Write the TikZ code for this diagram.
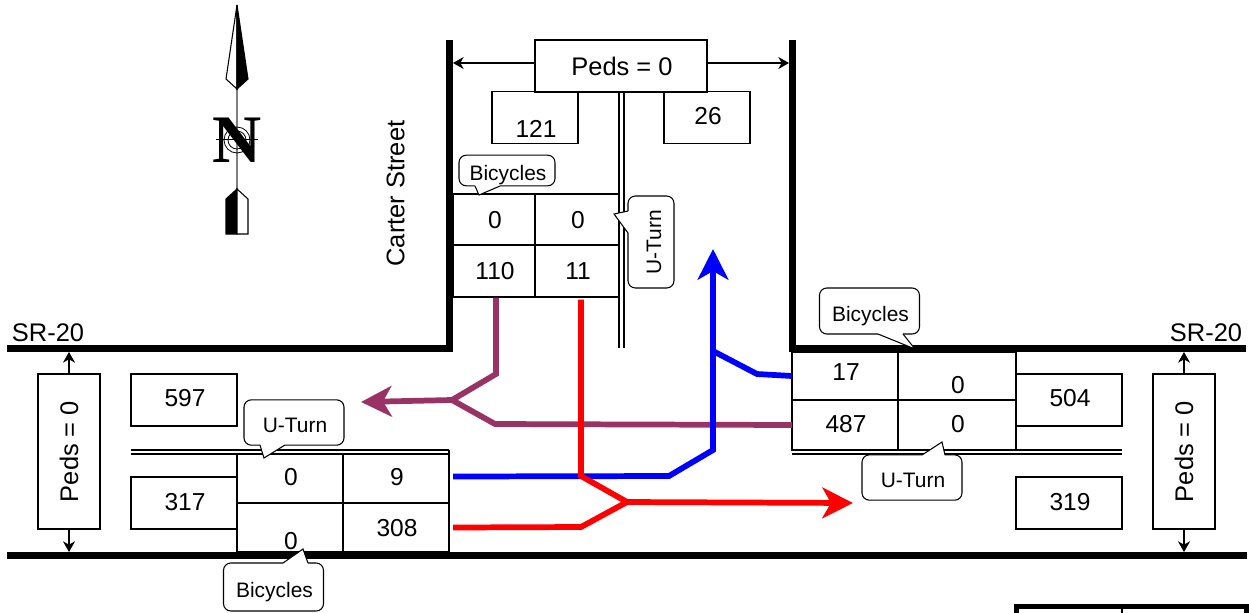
\documentclass[tikz,border=0pt]{standalone}
\usepackage{fontspec}
\setmainfont{Liberation Sans}
\newfontfamily\serifletter{Liberation Serif}
\usetikzlibrary{arrows.meta}
\definecolor{Plum}{HTML}{993366}
\definecolor{Signal}{HTML}{FF0000}
\definecolor{Lane}{HTML}{0000FF}
\tikzset{
  road/.style={line width=4.9pt},
  thinline/.style={line width=0.8pt},
  nudge/.style={execute at begin node=\kern1.5pt},
  numtext/.style={font=\fontsize{18.4}{22}\selectfont,text height=12.9pt,text depth=0pt,nudge},
  cell/.style={draw,line width=1.1pt,inner sep=0pt,outer sep=0pt,numtext,minimum width=#1,minimum height=37pt},
  volbox/.style={cell=79.5pt,minimum height=39pt,text depth=2.5pt},
  pedsbox/.style={draw,line width=1.1pt,inner sep=0pt,outer sep=0pt,font=\fontsize{19.1}{22}\selectfont,minimum width=#1},
  label/.style={font=\fontsize{19.1}{22}\selectfont,inner sep=0pt},
  bubble/.style={draw,line width=0.8pt,fill=white,rounded corners=5.5pt,inner sep=0pt,font=\fontsize{15.7}{18}\selectfont,text height=15pt,text depth=0pt},
  pedarrow/.style={-{Stealth[length=8pt,width=9pt,inset=2.5pt]},line width=0.8pt},
  flow/.style={line width=4.3pt},
  flowhead/.style={flow,-{Stealth[length=23pt,width=23pt,inset=6.5pt]}}
}

\begin{document}
\begin{tikzpicture}[x=0.75pt,y=-0.75pt]
    \useasboundingbox (0,0) rectangle (1249,612);

    \draw[gray,line width=1.1pt] (237,89) -- (237,189);
    \draw[thinline,fill=white] (237,5) -- (226,79) -- (237,89) -- cycle;
    \draw[thinline,fill=black] (237,5) -- (248,79) -- (237,89) -- cycle;
    \draw[thinline,fill=black] (237,189) -- (226,199) -- (226,234) -- (237,234) -- cycle;
    \draw[thinline,fill=white] (237,189) -- (248,199) -- (248,234) -- (237,234) -- cycle;
    \foreach \r in {9,13}{\draw[line width=0.6pt] (237,140) circle (\r);}
    \draw[line width=0.6pt] (216,139) -- (258,139);
    \node[inner sep=0pt,font=\fontsize{51}{55}\serifletter\bfseries] (north) at (237,140) {N};

    \node[cell=61.5pt,minimum height=38.25pt] (cellNa) at (494,219.5) {0};
    \node[cell=63pt,minimum height=38.25pt] (cellNb) at (577,219.5) {0};
    \node[cell=61.5pt,minimum height=39pt] (cellNc) at (494,271) {110};
    \node[cell=63pt,minimum height=39pt] (cellNd) at (577,271) {11};

    \node[cell=79.5pt,minimum height=36.75pt,text depth=2pt] (cellWa) at (290,478.5) {0};
    \node[cell=79.5pt,minimum height=36.75pt,text depth=2pt] (cellWb) at (396,478.5) {9};
    \node[cell=79.5pt,text height=33pt] (cellWc) at (290,527.5) {0};
    \node[cell=79.5pt] (cellWd) at (396,527.5) {308};

    \node[cell=79.5pt,minimum height=36pt,text depth=6pt] (cellEa) at (845,376) {17};
    \node[cell=88.5pt,minimum height=36pt,text height=26.4pt] (cellEb) at (957,376) {0};
    \node[cell=79.5pt,minimum height=37.5pt,text depth=1.5pt] (cellEc) at (845,425) {487};
    \node[cell=88.5pt,minimum height=37.5pt,text depth=1.5pt] (cellEd) at (957,425) {0};

    \node[volbox,minimum width=64.5pt,text height=30pt,text depth=0pt] (volNin) at (535,117.5) {121};
    \node[volbox,minimum width=64.5pt] (volNout) at (707,117.5) {26};
    \node[volbox] (volWout) at (184,400) {597};
    \node[volbox,text depth=1.2pt] (volWin) at (184,503) {317};
    \node[volbox] (volEin) at (1069,400) {504};
    \node[volbox,text depth=1.2pt] (volEout) at (1069,503) {319};

    \node[pedsbox=129pt,minimum height=39pt,nudge] (pedsN) at (621,66) {Peds = 0};
    \node[pedsbox=116.25pt,minimum height=46.5pt,rotate=90] (pedsW) at (69,451.5) {Peds = 0};
    \node[pedsbox=116.25pt,minimum height=46.5pt,rotate=90] (pedsE) at (1184,451.5) {Peds = 0};

    \coordinate (edgeNW) at (453,63);
    \coordinate (edgeNE) at (789,63);
    \coordinate (edgeWtop) at (69,352);
    \coordinate (edgeWbot) at (69,552);
    \coordinate (edgeEtop) at (1184,352);
    \coordinate (edgeEbot) at (1184,552);
    \draw[pedarrow] (pedsN.west |- edgeNW) -- (edgeNW);
    \draw[pedarrow] (pedsN.east |- edgeNE) -- (edgeNE);
    \draw[pedarrow] (pedsW.east) -- (edgeWtop);
    \draw[pedarrow] (pedsW.west) -- (edgeWbot);
    \draw[pedarrow] (pedsE.east) -- (edgeEtop);
    \draw[pedarrow] (pedsE.west) -- (edgeEbot);

    \draw[road] (7,348.5) -- (449.5,348.5) -- (449.5,40);
    \draw[road] (792.5,40) -- (792.5,348.5) -- (1246,348.5);
    \draw[road] (7,555.5) -- (1247,555.5);

    \foreach \x in {619,624}{\draw[thinline] (\x,92) -- (\x,348);}
    \foreach \y in {450,454}{\draw[thinline] (131,\y) -- (449,\y);\draw[thinline] (792,\y) -- (1122,\y);}
    \draw[line width=1.1pt] (449,450) -- (449,454);

    \node[label,rotate=90] (street) at (395.5,193.5) {Carter Street};
    \node[label] (srW) at (48,333) {SR-20};
    \node[label] (srE) at (1206,333) {SR-20};

    \coordinate (plumA) at (496,374);
    \coordinate (plumB) at (495,424);
    \coordinate (plumJoin) at (452,400);
    \coordinate (plumTip) at (361,402);
    \coordinate (redA) at (581,476);
    \coordinate (redB) at (581,527);
    \coordinate (redJoin) at (627,502);
    \coordinate (redTip) at (853,503);
    \coordinate (blueA) at (669,476);
    \coordinate (blueB) at (713,450);
    \coordinate (blueC) at (757,374);
    \coordinate (blueJoin) at (713,351);
    \coordinate (blueTip) at (713,249);
    \draw[flow,Plum] ([shift={(1.5pt,-0.5pt)}]cellNc.south) -- (plumA) -- (plumJoin);
    \draw[flowhead,Plum] (cellEc.west) -- (plumB) -- (plumJoin) -- (plumTip);
    \draw[flow,Lane] ([shift={(3pt,1.5pt)}]cellWb.east) -- (blueA) -- (blueB) -- (blueJoin);
    \draw[flowhead,Lane] (cellEa.west) -- (blueC) -- (blueJoin) -- (blueTip);
    \draw[flow,Signal] ([shift={(3pt,-2pt)}]cellNd.south) -- (redA) -- (redJoin);
    \draw[flowhead,Signal] ([xshift=3pt]cellWd.east) -- (redB) -- (redJoin) -- (redTip);

    \node[bubble,nudge,minimum width=72pt,minimum height=23pt] (bikeN) at (507,170.5) {Bicycles};
    \node[bubble,minimum width=69pt,minimum height=34.5pt,rotate=90] (turnN) at (651,242) {U-Turn};
    \node[bubble,nudge,minimum width=75pt,minimum height=34pt] (turnW) at (294,422.5) {U-Turn};
    \node[bubble,nudge,minimum width=75pt,minimum height=36pt] (bikeW) at (273.5,587) {Bicycles};
    \node[bubble,nudge,minimum width=75pt,minimum height=34.5pt] (bikeE) at (869.5,311) {Bicycles};
    \node[bubble,nudge,minimum width=75pt,minimum height=34pt] (turnE) at (912,477.5) {U-Turn};
    \foreach \ax/\ay/\tx/\ty/\bx/\by in {475/186/479/195/500/186,628/211/614/214/628/233,260/445/264/458/285/445,283/563/303/549/308/563,878/334/915/349/903/334,922/455/942/442/945/455}{
      \fill[white] (\ax,\ay) -- (\tx,\ty) -- (\bx,\by) -- cycle;
      \draw[white,line width=1.4pt] (\ax,\ay) -- (\bx,\by);
      \draw[thinline] (\ax,\ay) -- (\tx,\ty) -- (\bx,\by);
    }

    \draw[line width=3.75pt] (1016.5,640) -- (1016.5,606.5) -- (1246.5,606.5) -- (1246.5,640);
    \draw[line width=1.1pt] (1122,606) -- (1122,640);
  \end{tikzpicture}
\end{document}
